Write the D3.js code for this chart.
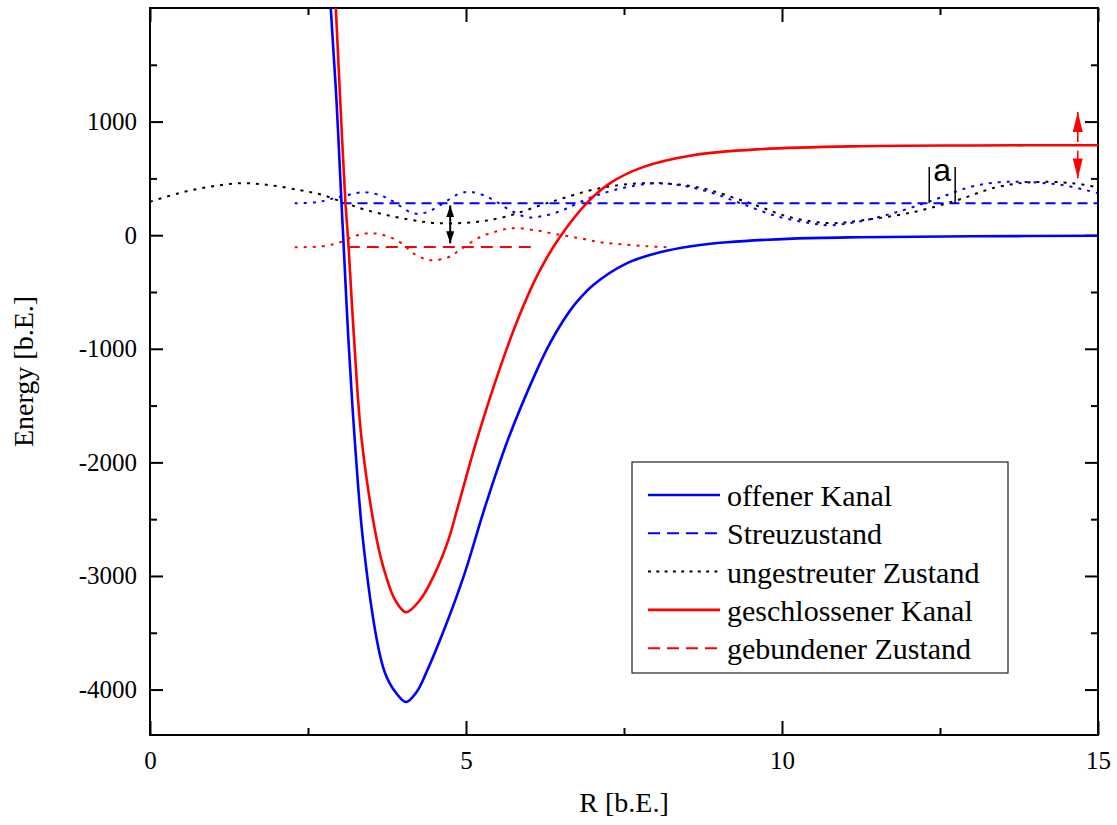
<!DOCTYPE html>
<html>
<head>
<meta charset="utf-8">
<script src="https://cdnjs.cloudflare.com/ajax/libs/d3/7.8.5/d3.min.js"></script>
<style>
  body { margin: 0; background: #fff; }
  svg { display: block; }
  .axis text { font-family: "Liberation Serif", "Times New Roman", serif; font-size: 25px; fill: #000; }
  .axis path { display: none; }
  .axis line { stroke: #000; stroke-width: 2; }
  .title { font-family: "Liberation Serif", "Times New Roman", serif; font-size: 28px; fill: #000; }
  .legend text { font-family: "Liberation Serif", "Times New Roman", serif; font-size: 30px; fill: #000; }
</style>
</head>
<body>
<div id="chart"></div>
<script>
// --- data: [R, Energy] ---
var offenerKanal = [[2.80, 2600], [2.86, 2000], [2.95, 1190], [3.03, 282], [3.06, -44], [3.14, -924],
  [3.24, -1805], [3.37, -2685], [3.59, -3565], [3.72, -3856], [3.88, -4020], [4.05, -4110],
  [4.22, -4020], [4.38, -3840], [4.67, -3450], [4.98, -2975], [5.30, -2394], [5.66, -1805],
  [6.12, -1190], [6.33, -950], [6.53, -760], [6.75, -590], [7.01, -440], [7.55, -246],
  [8.07, -150], [8.59, -95], [9.13, -62], [10.17, -30], [11.23, -18], [13.0, -10], [15.0, -5]];

var geschlossenerKanal = [[2.88, 2600], [2.94, 2000], [3.01, 1188], [3.09, 308], [3.14, -80],
  [3.23, -924], [3.35, -1805], [3.59, -2685], [3.72, -2975], [3.88, -3213], [4.05, -3319],
  [4.27, -3213], [4.51, -2975], [4.72, -2685], [4.87, -2394], [5.17, -1805], [5.51, -1215],
  [5.81, -755], [6.15, -330], [6.47, -30], [6.91, 282], [7.28, 458], [7.80, 599], [8.59, 704],
  [9.65, 757], [11.23, 783], [13.0, 790], [15.0, 792]];

var ungestreut = [[0.0, 295], [0.52, 379], [1.00, 431], [1.46, 458], [1.90, 440], [2.37, 396],
  [2.69, 361], [3.01, 299], [3.43, 220], [4.07, 141], [4.54, 106], [5.11, 114], [5.59, 158],
  [6.33, 290], [7.12, 414], [7.86, 458], [8.65, 423], [9.45, 290], [10.13, 158], [10.76, 106],
  [11.28, 132], [12.07, 202], [12.77, 308], [13.40, 423], [13.97, 467], [14.60, 458], [15.0, 420]];

var streuWelle = [[2.29, 282], [2.64, 290], [2.85, 317], [3.12, 352], [3.37, 379], [3.64, 352],
  [3.84, 299], [4.16, 194], [4.38, 202], [4.64, 282], [4.91, 370], [5.11, 379], [5.38, 326],
  [5.70, 220], [5.97, 158], [6.28, 176], [6.53, 220], [6.80, 290], [7.12, 361], [7.55, 423],
  [7.99, 458], [8.39, 440], [8.86, 379], [9.34, 282], [9.92, 167], [10.44, 106], [10.76, 88],
  [11.16, 114], [11.76, 194], [12.39, 308], [12.97, 423], [13.45, 467], [13.92, 467],
  [14.45, 440], [15.0, 370]];

var gebundenWelle = [[2.29, -106], [2.74, -97], [3.01, -62], [3.28, 0], [3.53, 18], [3.80, -18],
  [4.00, -79], [4.16, -158], [4.43, -220], [4.72, -194], [4.92, -123], [5.22, -18], [5.49, 35],
  [5.74, 62], [6.09, 44], [6.42, 9], [6.80, -26], [7.12, -62], [7.44, -79], [7.86, -97], [8.18, -106]];

var streuzustand = [[3.03, 282], [15.0, 282]];
var gebundenerZustand = [[3.13, -105], [6.09, -105]];

var pfeilSchwarz = [4.75, 262, -72];          // R, top tip, bottom tip
var pfeilRot = [14.68, 1085, 820, 745, 500];  // R, up tip, up base, down base, down tip
var markeA = [12.33, 12.74, 282, 600, 480];   // R left, R right, bottom, top, text baseline

var xMajor = [0, 5, 10, 15], xMinor = [2.5, 7.5, 12.5];
var yMajor = [1000, 0, -1000, -2000, -3000, -4000];
var yMinor = [1500, 500, -500, -1500, -2500, -3500];

var legendEintraege = ["offener Kanal", "Streuzustand", "ungestreuter Zustand",
  "geschlossener Kanal", "gebundener Zustand"];

// --- layout ---
var width = 1117, height = 825;
var pLeft = 150, pRight = 1098, pTop = 8, pBottom = 735;

var svg = d3.select("#chart").append("svg")
  .attr("width", width)
  .attr("height", height);

var x = d3.scaleLinear().domain([0, 15]).range([pLeft, pRight]);
var y = d3.scaleLinear().domain([-4400, 2000]).range([pBottom, pTop]);

var defs = svg.append("defs");
defs.append("clipPath").attr("id", "plotclip")
  .append("rect").attr("x", pLeft).attr("y", pTop)
  .attr("width", pRight - pLeft).attr("height", pBottom - pTop);

function marker(id, color, len, wid) {
  defs.append("marker")
    .attr("id", id)
    .attr("markerUnits", "userSpaceOnUse")
    .attr("viewBox", "0 0 " + len + " " + wid)
    .attr("refX", len).attr("refY", wid / 2)
    .attr("markerWidth", len).attr("markerHeight", wid)
    .attr("orient", "auto")
    .append("path")
    .attr("d", "M0,0L" + len + "," + (wid / 2) + "L0," + wid + "Z")
    .attr("fill", color);
}
marker("headBlack", "#000", 12, 8);
marker("headRed", "#ff0000", 20, 10);

// axes (ticks inward on all four sides)
var plain = function (d) { return String(d); };   // "1000", "-1000" like the original
function addAxis(axisFn, scale, vals, size, tx, ty, labels, pad) {
  var a = axisFn(scale).tickValues(vals).tickSizeInner(-size).tickSizeOuter(0)
    .tickPadding(pad || 0)
    .tickFormat(labels ? plain : "");
  svg.append("g").attr("class", "axis")
    .attr("transform", "translate(" + tx + "," + ty + ")")
    .call(a);
}
addAxis(d3.axisBottom, x, xMajor, 14, 0, pBottom, true, 16);
addAxis(d3.axisBottom, x, xMinor, 7, 0, pBottom, false);
addAxis(d3.axisTop, x, xMajor, 14, 0, pTop, false);
addAxis(d3.axisTop, x, xMinor, 7, 0, pTop, false);
addAxis(d3.axisLeft, y, yMajor, 13, pLeft, 0, true, 13);
addAxis(d3.axisLeft, y, yMinor, 7, pLeft, 0, false);
addAxis(d3.axisRight, y, yMajor, 13, pRight, 0, false);
addAxis(d3.axisRight, y, yMinor, 7, pRight, 0, false);

svg.selectAll(".axis text").filter(function () { return this.textContent === ""; }).remove();

svg.append("rect")
  .attr("x", pLeft).attr("y", pTop)
  .attr("width", pRight - pLeft).attr("height", pBottom - pTop)
  .attr("fill", "none").attr("stroke", "#000").attr("stroke-width", 2);

// curves
var line = d3.line()
  .x(function (d) { return x(d[0]); })
  .y(function (d) { return y(d[1]); })
  .curve(d3.curveCatmullRom.alpha(0.5));

var plot = svg.append("g").attr("clip-path", "url(#plotclip)");

var series = [
  { data: ungestreut, color: "#000", dash: "3,6", w: 2 },
  { data: streuWelle, color: "#0000ff", dash: "3,6", w: 2 },
  { data: gebundenWelle, color: "#ff0000", dash: "3,6", w: 2 },
  { data: streuzustand, color: "#0000ff", dash: "10,6", w: 2 },
  { data: gebundenerZustand, color: "#ff0000", dash: "12,7", w: 2 },
  { data: offenerKanal, color: "#0000ff", dash: null, w: 2.6 },
  { data: geschlossenerKanal, color: "#ff0000", dash: null, w: 2.6 }
];

plot.selectAll("path.curve")
  .data(series)
  .enter().append("path")
  .attr("class", "curve")
  .attr("d", function (d) { return line(d.data); })
  .attr("fill", "none")
  .attr("stroke", function (d) { return d.color; })
  .attr("stroke-width", function (d) { return d.w; })
  .attr("stroke-dasharray", function (d) { return d.dash; });

// black double arrow
var pm = (pfeilSchwarz[1] + pfeilSchwarz[2]) / 2;
[pfeilSchwarz[1], pfeilSchwarz[2]].forEach(function (tip) {
  svg.append("line")
    .attr("x1", x(pfeilSchwarz[0])).attr("x2", x(pfeilSchwarz[0]))
    .attr("y1", y(pm)).attr("y2", y(tip))
    .attr("stroke", "#000").attr("stroke-width", 2)
    .attr("marker-end", "url(#headBlack)");
});

// red arrows above and below the asymptote
svg.append("line")
  .attr("x1", x(pfeilRot[0])).attr("x2", x(pfeilRot[0]))
  .attr("y1", y(pfeilRot[2])).attr("y2", y(pfeilRot[1]))
  .attr("stroke", "#ff0000").attr("stroke-width", 1.6)
  .attr("marker-end", "url(#headRed)");
svg.append("line")
  .attr("x1", x(pfeilRot[0])).attr("x2", x(pfeilRot[0]))
  .attr("y1", y(pfeilRot[3])).attr("y2", y(pfeilRot[4]))
  .attr("stroke", "#ff0000").attr("stroke-width", 1.6)
  .attr("marker-end", "url(#headRed)");

// phase shift mark "a"
[markeA[0], markeA[1]].forEach(function (r) {
  svg.append("line")
    .attr("x1", x(r)).attr("x2", x(r))
    .attr("y1", y(markeA[2])).attr("y2", y(markeA[3]))
    .attr("stroke", "#000").attr("stroke-width", 1.5);
});
svg.append("text")
  .attr("x", x((markeA[0] + markeA[1]) / 2))
  .attr("y", y(markeA[4]))
  .attr("text-anchor", "middle")
  .style("font-family", "'Liberation Sans', Arial, sans-serif")
  .style("font-size", "32px")
  .text("a");

// axis titles
svg.append("text").attr("class", "title")
  .attr("x", (pLeft + pRight) / 2).attr("y", 812)
  .attr("text-anchor", "middle")
  .text("R [b.E.]");
svg.append("text").attr("class", "title")
  .attr("transform", "translate(33," + ((pTop + pBottom) / 2) + ") rotate(-90)")
  .attr("text-anchor", "middle")
  .text("Energy [b.E.]");

// legend
var legendStyles = [
  { color: "#0000ff", dash: null, w: 2.6 },
  { color: "#0000ff", dash: "12,7", w: 2 },
  { color: "#000", dash: "3,5.3", w: 2 },
  { color: "#ff0000", dash: null, w: 2.6 },
  { color: "#ff0000", dash: "12,7", w: 2 }
];
var lg = svg.append("g").attr("class", "legend");
lg.append("rect")
  .attr("x", 632).attr("y", 462).attr("width", 376).attr("height", 211)
  .attr("fill", "#fff").attr("stroke", "#222").attr("stroke-width", 1.2);
var rows = lg.selectAll("g.row")
  .data(legendEintraege)
  .enter().append("g")
  .attr("class", "row")
  .attr("transform", function (d, i) { return "translate(648," + (495 + i * 38.3) + ")"; });
rows.append("line")
  .attr("x1", 0).attr("x2", 72)
  .attr("stroke", function (d, i) { return legendStyles[i].color; })
  .attr("stroke-width", function (d, i) { return legendStyles[i].w; })
  .attr("stroke-dasharray", function (d, i) { return legendStyles[i].dash; });
rows.append("text")
  .attr("x", 79).attr("y", 11)
  .text(function (d) { return d; });
</script>
</body>
</html>
